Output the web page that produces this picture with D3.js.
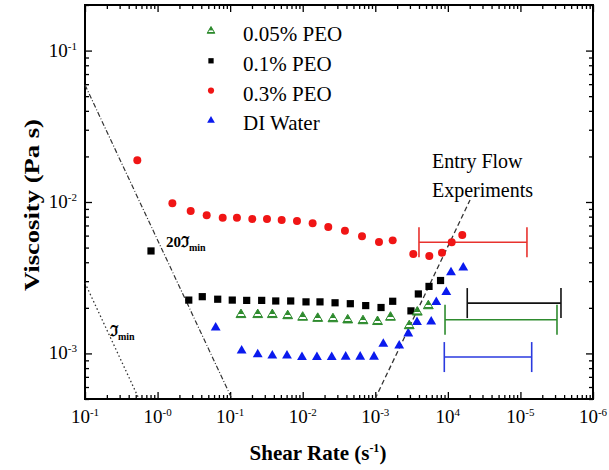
<!DOCTYPE html>
<html>
<head>
<meta charset="utf-8">
<script src="https://cdnjs.cloudflare.com/ajax/libs/d3/7.8.5/d3.min.js"></script>
<style>
  body { margin: 0; background: #fff; }
  svg { display: block; }
  text { font-family: "Liberation Serif", "Times New Roman", serif; }
</style>
</head>
<body>
<svg id="chart" width="609" height="470"></svg>
<script>
// tick values + labels (labels kept as printed in the figure)
var xMajor = [0.1, 1, 10, 100, 1e3, 1e4, 1e5, 1e6];
var xExp = ["-1", "-0", "-1", "-2", "-3", "4", "-5", "-6"];
var yMajor = [0.1, 0.01, 0.001];
var yExp = ["-1", "-2", "-3"];

// series: [shear rate, viscosity]
var peo005 = [[14.1,0.0018],[24.0,0.0018],[38.1,0.0018],[62.1,0.00177],[99.9,0.00173],[161,0.0017],
  [261,0.00169],[417,0.00166],[677,0.00164],[1073,0.00162],[1620,0.00173],[2935,0.00152],
  [3790,0.00187],[5380,0.00206]];
var peo01 = [[0.812,0.00475],[2.69,0.00225],[4.13,0.00237],[6.74,0.00228],[10.7,0.00225],[16.9,0.00224],
  [27.2,0.00224],[42.5,0.00222],[68.3,0.00222],[111,0.00219],[173,0.00219],[279,0.00216],
  [453,0.00213],[738,0.00207],[1200,0.00201],[1738,0.00221],[3100,0.00191],[3920,0.00247],
  [5500,0.00277],[7930,0.00303]];
var peo03 = [[0.526,0.0189],[1.60,0.0098],[2.86,0.00871],[4.75,0.00817],[7.90,0.00787],[12.4,0.00787],
  [20.2,0.00772],[32.2,0.00772],[51.3,0.0076],[83.4,0.00748],[137,0.00723],[225,0.00684],
  [382,0.00646],[656,0.00593],[1125,0.00544],[1738,0.00558],[3340,0.00453],[5550,0.0044],
  [8300,0.00462],[11300,0.00542],[15800,0.00605]];
var water = [[6.32,0.001477],[14.4,0.001041],[24.0,0.000986],[38.1,0.000965],[60.7,0.000965],[97.7,0.000946],
  [157,0.000946],[251,0.000946],[391,0.00095],[620,0.00095],[960,0.00095],[1290,0.001156],
  [2136,0.001124],[2850,0.001353],[3757,0.00161],[5897,0.00162],[6930,0.00218],[9520,0.00254],
  [11050,0.00343],[16300,0.00368]];

// entry flow experiment ranges: [low rate, high rate, viscosity]
var rangeRed = [4000, 123000, 0.00542];
var rangeBlack = [18500, 362000, 0.00215];
var rangeGreen = [9140, 319000, 0.00167];
var rangeBlue = [8930, 143000, 0.000946];

// guide lines
var line20Tmin = [[0.1, 0.0593], [10.6, 0.0005]];
var lineTmin = [[0.1, 0.00292], [0.555, 0.0005]];
var lineEntry = [[991, 0.0005], [20200, 0.0103]];

var legendNames = ["0.05% PEO", "0.1% PEO", "0.3% PEO", "DI Water"];

(function () {
var svg = d3.select("#chart");
var pl = 85, pr = 593, pt = 5, pb = 399;

var x = d3.scaleLog().domain([0.1, 1e6]).range([pl, pr]);
var y = d3.scaleLog().domain([0.0005, 0.2]).range([pb, pt]);

// green half-open triangle fill
var defs = svg.append("defs");
var grad = defs.append("linearGradient").attr("id", "gtri")
  .attr("x1", 0).attr("y1", 0).attr("x2", 0).attr("y2", 1);
[[0, "#2e8b2e"], [0.58, "#2e8b2e"], [0.6, "#fff"], [0.8, "#fff"], [0.82, "#2e8b2e"], [1, "#2e8b2e"]]
  .forEach(function (s) { grad.append("stop").attr("offset", s[0]).attr("stop-color", s[1]); });

// minor ticks
var xMinor = [], yMinor = [];
for (var e = -1; e < 6; e++) for (var m = 2; m < 10; m++) xMinor.push(m * Math.pow(10, e));
for (var e2 = -4; e2 < 0; e2++) for (var m2 = 2; m2 < 10; m2++) {
  var v = m2 * Math.pow(10, e2);
  if (v >= 0.0005 && v <= 0.2) yMinor.push(v);
}

function ticks(axis, vals, size, tr) {
  svg.append("g").attr("transform", tr)
    .call(axis.tickValues(vals).tickSizeInner(size).tickSizeOuter(0).tickFormat(""))
    .call(function (g) { g.select(".domain").remove(); })
    .selectAll("line").attr("stroke", "#000").attr("stroke-width", 1.3);
}
ticks(d3.axisBottom(x), xMajor, -7, "translate(0," + pb + ")");
ticks(d3.axisBottom(x), xMinor, -4, "translate(0," + pb + ")");
ticks(d3.axisTop(x), xMajor, -7, "translate(0," + pt + ")");
ticks(d3.axisTop(x), xMinor, -4, "translate(0," + pt + ")");
ticks(d3.axisLeft(y), yMajor, -7, "translate(" + pl + ",0)");
ticks(d3.axisLeft(y), yMinor, -4, "translate(" + pl + ",0)");
ticks(d3.axisRight(y), yMajor, -7, "translate(" + pr + ",0)");
ticks(d3.axisRight(y), yMinor, -4, "translate(" + pr + ",0)");

// frame
svg.append("rect").attr("x", pl).attr("y", pt)
  .attr("width", pr - pl).attr("height", pb - pt)
  .attr("fill", "none").attr("stroke", "#000").attr("stroke-width", 2);

// tick labels
xMajor.forEach(function (v, i) {
  var t = svg.append("text").attr("x", x(v)).attr("y", 423)
    .attr("text-anchor", "middle").attr("font-size", 19);
  t.append("tspan").text("10");
  t.append("tspan").attr("dy", -7).attr("font-size", 11).text(xExp[i]);
});
yMajor.forEach(function (v, i) {
  var t = svg.append("text").attr("x", 77).attr("y", y(v) + 6)
    .attr("text-anchor", "end").attr("font-size", 19);
  t.append("tspan").text("10");
  t.append("tspan").attr("dy", -7).attr("font-size", 11).text(yExp[i]);
});

// axis titles
var xt = svg.append("text").attr("x", 318).attr("y", 460)
  .attr("text-anchor", "middle").attr("font-size", 21).attr("font-weight", "bold");
xt.append("tspan").text("Shear Rate (s");
xt.append("tspan").attr("dy", -8).attr("font-size", 12).text("-1");
xt.append("tspan").attr("dy", 8).text(")");

svg.append("text").attr("transform", "translate(39,205) rotate(-90)")
  .attr("text-anchor", "middle").attr("font-size", 22).attr("font-weight", "bold")
  .attr("textLength", 172).attr("lengthAdjust", "spacingAndGlyphs")
  .text("Viscosity (Pa s)");

// guide lines
var line = d3.line().x(function (d) { return x(d[0]); }).y(function (d) { return y(d[1]); });
svg.append("path").attr("d", line(line20Tmin)).attr("fill", "none")
  .attr("stroke", "#333").attr("stroke-width", 1.2).attr("stroke-dasharray", "5,2,1,2");
svg.append("path").attr("d", line(lineTmin)).attr("fill", "none")
  .attr("stroke", "#333").attr("stroke-width", 1.3).attr("stroke-dasharray", "1.5,2.5");
svg.append("path").attr("d", line(lineEntry)).attr("fill", "none")
  .attr("stroke", "#333").attr("stroke-width", 1.3).attr("stroke-dasharray", "5,3");

// entry flow ranges
function rangeBar(r, col) {
  var g = svg.append("g").attr("stroke", col).attr("stroke-width", 1.6);
  g.append("line").attr("x1", x(r[0])).attr("x2", x(r[1])).attr("y1", y(r[2])).attr("y2", y(r[2]));
  [r[0], r[1]].forEach(function (v) {
    g.append("line").attr("x1", x(v)).attr("x2", x(v)).attr("y1", y(r[2]) - 15).attr("y2", y(r[2]) + 15);
  });
}
rangeBar(rangeRed, "#e8322e");
rangeBar(rangeBlack, "#111");
rangeBar(rangeGreen, "#2e8b2e");
rangeBar(rangeBlue, "#2a3adf");

// data markers
var tri = d3.symbol().type(d3.symbolTriangle).size(42);
var sq = d3.symbol().type(d3.symbolSquare).size(52);
var circ = d3.symbol().type(d3.symbolCircle).size(50);

function plot(data, sym, fill, stroke) {
  svg.append("g").selectAll("path").data(data).join("path")
    .attr("transform", function (d) { return "translate(" + x(d[0]) + "," + y(d[1]) + ")"; })
    .attr("d", sym).attr("fill", fill).attr("stroke", stroke).attr("stroke-width", 1);
}
plot(peo03, circ, "#f01515", "none");
plot(peo01, sq, "#000", "none");
plot(water, tri, "#0a1aee", "none");
plot(peo005, tri, "url(#gtri)", "#2e8b2e");

// annotations
var a1 = svg.append("text").attr("x", 166).attr("y", 247)
  .attr("font-family", "Liberation Sans, DejaVu Sans, sans-serif").attr("font-weight", "bold").attr("font-size", 15);
a1.append("tspan").text("20\u2111");
a1.append("tspan").attr("dy", 4).attr("font-size", 10).text("min");
var a2 = svg.append("text").attr("x", 110).attr("y", 336)
  .attr("font-family", "Liberation Sans, DejaVu Sans, sans-serif").attr("font-weight", "bold").attr("font-size", 15);
a2.append("tspan").text("\u2111");
a2.append("tspan").attr("dy", 4).attr("font-size", 10).text("min");

svg.append("text").attr("x", 432).attr("y", 168).attr("font-size", 20).text("Entry Flow");
svg.append("text").attr("x", 432).attr("y", 197).attr("font-size", 20).text("Experiments");

// legend
var legSyms = [d3.symbol().type(d3.symbolTriangle).size(26), d3.symbol().type(d3.symbolSquare).size(28),
  d3.symbol().type(d3.symbolCircle).size(30), d3.symbol().type(d3.symbolTriangle).size(26)];
var legFill = ["url(#gtri)", "#000", "#f01515", "#0a1aee"];
var legStroke = ["#2e8b2e", "none", "none", "none"];
legendNames.forEach(function (n, i) {
  var cy = 31 + i * 29.8;
  svg.append("path").attr("transform", "translate(211," + cy + ")")
    .attr("d", legSyms[i]).attr("fill", legFill[i]).attr("stroke", legStroke[i]);
  svg.append("text").attr("x", 243).attr("y", cy + 10).attr("font-size", 21).text(n);
});
})();
</script>
</body>
</html>
